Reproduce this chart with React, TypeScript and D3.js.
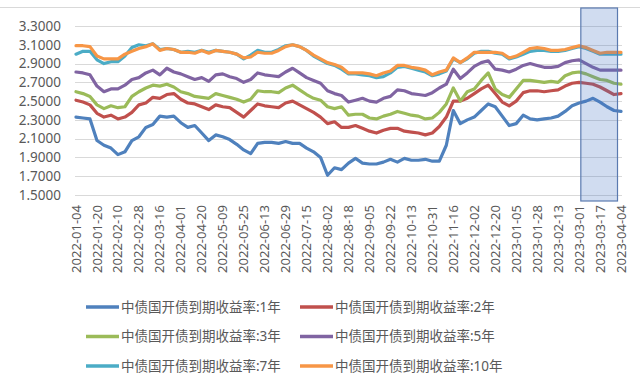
import * as d3 from "d3";
import React, { useEffect, useRef } from "react";

// x-axis labels (every 12th trading day)
const dateLabels = [
  "2022-01-04", "2022-01-20", "2022-02-10", "2022-02-28", "2022-03-16", "2022-04-01",
  "2022-04-20", "2022-05-09", "2022-05-25", "2022-06-13", "2022-06-29", "2022-07-15",
  "2022-08-02", "2022-08-18", "2022-09-05", "2022-09-22", "2022-10-13", "2022-10-31",
  "2022-11-16", "2022-12-02", "2022-12-20", "2023-01-05", "2023-01-28", "2023-02-13",
  "2023-03-01", "2023-03-17", "2023-04-04",
];
const LABEL_EVERY = 12;
const TOTAL_DAYS = 313;
const SAMPLE_EVERY = 4; // one value read per 4 trading days

const yTicks = [1.5, 1.7, 1.9, 2.1, 2.3, 2.5, 2.7, 2.9, 3.1, 3.3];

const yield1y = [
  2.33, 2.32, 2.31, 2.08, 2.03, 2.0, 1.93, 1.96, 2.08, 2.12,
  2.22, 2.25, 2.34, 2.33, 2.34, 2.27, 2.22, 2.24, 2.16, 2.08,
  2.14, 2.12, 2.09, 2.04, 1.98, 1.94, 2.05, 2.06, 2.06, 2.05,
  2.07, 2.05, 2.05, 2.0, 1.96, 1.9, 1.71, 1.79, 1.77, 1.84,
  1.89, 1.84, 1.83, 1.83, 1.85, 1.88, 1.85, 1.89, 1.87, 1.87,
  1.88, 1.86, 1.86, 2.03, 2.4, 2.26, 2.3, 2.33, 2.4, 2.47,
  2.44, 2.34, 2.24, 2.26, 2.35, 2.31, 2.3, 2.31, 2.32, 2.34,
  2.39, 2.45, 2.48, 2.5, 2.53, 2.49, 2.44, 2.4, 2.39,
];
const yield2y = [
  2.51, 2.49, 2.46, 2.37, 2.33, 2.35, 2.31, 2.33, 2.38, 2.46,
  2.48, 2.54, 2.53, 2.57, 2.58, 2.52, 2.48, 2.47, 2.44, 2.41,
  2.46, 2.44, 2.43, 2.38, 2.33, 2.4, 2.47, 2.45, 2.44, 2.43,
  2.48, 2.5, 2.46, 2.42, 2.38, 2.33, 2.26, 2.28, 2.22, 2.22,
  2.24, 2.21, 2.18, 2.16, 2.19, 2.21, 2.21, 2.18, 2.17, 2.16,
  2.14, 2.16, 2.23, 2.33, 2.5, 2.5, 2.53, 2.58, 2.63, 2.67,
  2.58, 2.49, 2.45, 2.5, 2.59, 2.61, 2.61, 2.6, 2.61, 2.62,
  2.66, 2.69, 2.7, 2.69, 2.68, 2.65, 2.61, 2.57, 2.58,
];
const yield3y = [
  2.6, 2.58, 2.55, 2.46, 2.42, 2.45, 2.43, 2.44, 2.55, 2.6,
  2.64, 2.67, 2.66, 2.68, 2.65, 2.6, 2.58, 2.55, 2.54, 2.53,
  2.58, 2.56, 2.54, 2.52, 2.49, 2.52, 2.61, 2.6, 2.6, 2.59,
  2.64, 2.67, 2.62, 2.57, 2.53, 2.51, 2.44, 2.42, 2.44, 2.35,
  2.36, 2.36, 2.32, 2.31, 2.34, 2.36, 2.39, 2.37, 2.35, 2.34,
  2.31, 2.32, 2.38, 2.47, 2.64, 2.5, 2.6, 2.63, 2.72, 2.8,
  2.63, 2.57, 2.54, 2.63, 2.72, 2.72, 2.71, 2.7, 2.71, 2.7,
  2.77, 2.8, 2.81, 2.79, 2.76, 2.73, 2.72, 2.69, 2.68,
];
const yield5y = [
  2.81, 2.8, 2.78, 2.66, 2.6, 2.63, 2.63, 2.67, 2.73, 2.75,
  2.8, 2.83, 2.78, 2.85, 2.81, 2.79, 2.76, 2.73, 2.75, 2.71,
  2.78, 2.79, 2.76, 2.74, 2.7, 2.73, 2.8, 2.78, 2.77, 2.76,
  2.81, 2.85, 2.8, 2.75, 2.72, 2.69, 2.61, 2.58, 2.56, 2.49,
  2.51, 2.53, 2.5, 2.49, 2.53, 2.55, 2.62, 2.61, 2.58, 2.57,
  2.56, 2.59, 2.64, 2.68, 2.84, 2.74, 2.8, 2.87, 2.91, 2.93,
  2.84, 2.83, 2.81, 2.84, 2.88, 2.9, 2.88, 2.86, 2.86, 2.87,
  2.91, 2.93, 2.94, 2.9, 2.86, 2.83, 2.83, 2.83, 2.83,
];
const yield7y = [
  3.0, 3.03, 3.03, 2.94, 2.9, 2.92, 2.92, 2.98, 3.07, 3.1,
  3.09, 3.11, 3.05, 3.06, 3.05, 3.02, 3.03, 3.02, 3.04, 3.02,
  3.04, 3.03, 3.02, 3.0, 2.95, 2.99, 3.04, 3.02, 3.02, 3.05,
  3.09, 3.1, 3.08, 3.04, 2.98, 2.94, 2.9, 2.88, 2.84, 2.79,
  2.79, 2.78, 2.77, 2.75, 2.76, 2.8, 2.86, 2.87, 2.85, 2.83,
  2.81, 2.77, 2.79, 2.82, 2.95, 2.91, 2.95, 3.01, 3.03, 3.03,
  3.01, 3.0, 2.95, 2.97, 3.0, 3.03, 3.04, 3.04, 3.03, 3.03,
  3.04, 3.06, 3.08, 3.06, 3.03, 3.0, 3.0, 3.0, 3.0,
];
const yield10y = [
  3.09, 3.09, 3.08, 2.98, 2.95, 2.95, 2.95, 3.0, 3.03, 3.06,
  3.08, 3.11, 3.04, 3.06, 3.05, 3.02, 3.02, 3.01, 3.04, 3.01,
  3.04, 3.03, 3.02, 3.0, 2.96, 2.97, 3.02, 3.01, 3.01, 3.04,
  3.08, 3.1, 3.08, 3.04, 2.99, 2.95, 2.91, 2.89, 2.86, 2.8,
  2.8, 2.8, 2.79, 2.77, 2.8, 2.82, 2.88, 2.88, 2.86, 2.85,
  2.83, 2.78, 2.81, 2.83, 2.96, 2.91, 2.96, 3.02, 3.02, 3.02,
  3.02, 3.01, 2.96, 2.98, 3.02, 3.06, 3.07, 3.06, 3.04, 3.04,
  3.05, 3.07, 3.09, 3.07, 3.04, 3.01, 3.02, 3.02, 3.02,
];

const seriesNames = [
  "中债国开债到期收益率:1年",
  "中债国开债到期收益率:2年",
  "中债国开债到期收益率:3年",
  "中债国开债到期收益率:5年",
  "中债国开债到期收益率:7年",
  "中债国开债到期收益率:10年",
];
const seriesValues = [yield1y, yield2y, yield3y, yield5y, yield7y, yield10y];
const seriesColors = ["#4F81BD", "#C0504D", "#9BBB59", "#8064A2", "#4BACC6", "#F79646"];

// highlighted window (trading-day indices)
const highlightFrom = 289;
const highlightTo = 310;

const App: React.FC = () => {
  const ref = useRef<SVGSVGElement>(null);

  useEffect(() => {
    if (!ref.current) return;
    const svg = d3.select(ref.current);
    svg.selectAll("*").remove();

    const font = "'Noto Sans', 'Noto Sans CJK SC', sans-serif";
    const textColor = "#595959";

    const x = d3.scaleLinear().domain([0, TOTAL_DAYS - 1]).range([76, 621]);
    const y = d3.scaleLinear().domain([1.5, 3.3]).range([195, 26]);

    // outer border line at top
    svg.append("line")
      .attr("x1", 0).attr("x2", 640).attr("y1", 7.5).attr("y2", 7.5)
      .attr("stroke", "#d9d9d9");

    // gridlines
    svg.append("g")
      .selectAll("line")
      .data(yTicks)
      .join("line")
      .attr("x1", 75).attr("x2", 622)
      .attr("y1", (d) => Math.round(y(d)) + 0.5)
      .attr("y2", (d) => Math.round(y(d)) + 0.5)
      .attr("stroke", "#d9d9d9");

    // y labels
    svg.append("g")
      .selectAll("text")
      .data(yTicks)
      .join("text")
      .attr("x", 61)
      .attr("y", (d) => y(d))
      .attr("dy", "0.35em")
      .attr("text-anchor", "end")
      .style("font-family", font)
      .style("font-size", "13.5px")
      .style("fill", textColor)
      .text((d) => d3.format(".4f")(d));

    // x labels
    svg.append("g")
      .selectAll("text")
      .data(dateLabels)
      .join("text")
      .attr("transform", (d, i) => `translate(${x(i * LABEL_EVERY)},205) rotate(-90)`)
      .attr("dy", "0.35em")
      .attr("text-anchor", "end")
      .style("font-family", font)
      .style("font-size", "13px")
      .style("fill", textColor)
      .text((d) => d);

    // lines
    const line = d3.line<number>()
      .x((d, i) => x(Math.min(i * SAMPLE_EVERY, TOTAL_DAYS - 1)))
      .y((d) => y(d))
      .curve(d3.curveLinear);

    svg.append("g")
      .selectAll("path")
      .data(seriesValues)
      .join("path")
      .attr("d", (d) => line(d))
      .attr("fill", "none")
      .attr("stroke", (d, i) => seriesColors[i])
      .attr("stroke-width", 3.2)
      .attr("stroke-linejoin", "round")
      .attr("stroke-linecap", "round");

    // highlight box
    svg.append("rect")
      .attr("x", x(highlightFrom))
      .attr("y", 8)
      .attr("width", x(highlightTo) - x(highlightFrom))
      .attr("height", 193)
      .attr("fill", "#4472C4")
      .attr("fill-opacity", 0.25)
      .attr("stroke", "#5a7ab0")
      .attr("stroke-width", 1.2);

    // legend
    const legend = svg.append("g")
      .selectAll("g")
      .data(seriesNames)
      .join("g")
      .attr("transform", (d, i) => `translate(${i % 2 === 0 ? 86 : 300},${307 + Math.floor(i / 2) * 29.5})`);

    legend.append("line")
      .attr("x1", 0).attr("x2", 33)
      .attr("stroke", (d, i) => seriesColors[i])
      .attr("stroke-width", 3.5);

    legend.append("text")
      .attr("x", 35)
      .attr("dy", "0.35em")
      .style("font-family", font)
      .style("font-size", "13.5px")
      .style("fill", textColor)
      .text((d) => d);
  }, []);

  return (
    <svg
      ref={ref}
      width={640}
      height={386}
      style={{ position: "absolute", left: 0, top: 0, background: "#fff", display: "block" }}
    />
  );
};

export default App;
